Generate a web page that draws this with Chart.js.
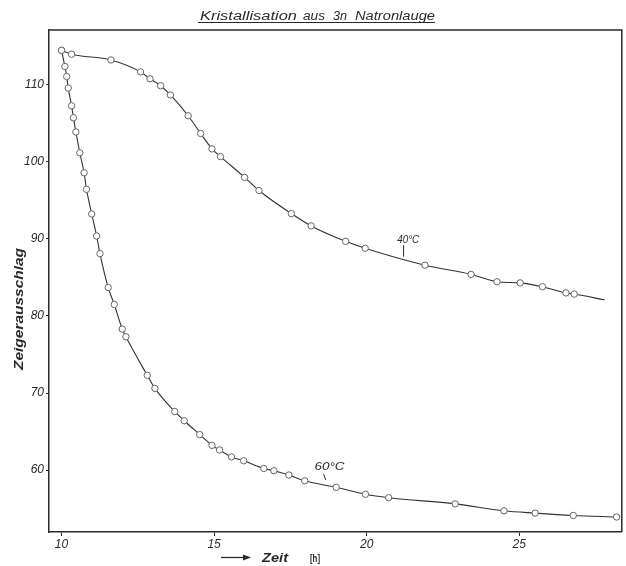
<!DOCTYPE html>
<html>
<head>
<meta charset="utf-8">
<script src="https://cdn.jsdelivr.net/npm/chart.js@4.4.1/dist/chart.umd.min.js"></script>
<style>
  body { margin: 0; background: #fff; }
  canvas { display: block; }
</style>
</head>
<body>
<canvas id="chart" width="626" height="566"></canvas>
<script>
// Werte
const zeit40 = [10.0, 10.33, 11.62, 12.59, 12.9, 13.25, 13.57, 14.15, 14.56, 14.93, 15.21, 16.0, 16.47,
  17.53, 18.18, 19.31, 19.95, 21.91, 23.42, 24.27, 25.03, 25.76, 26.53, 26.8, 27.8];
const wert40 = [114.5, 114.0, 113.25, 111.7, 110.8, 109.9, 108.7, 106.0, 103.7, 101.7, 100.7, 98.0, 96.3,
  93.3, 91.7, 89.7, 88.8, 86.6, 85.4, 84.45, 84.3, 83.8, 83.0, 82.85, 82.1];

const zeit60 = [10.0, 10.11, 10.17, 10.22, 10.33, 10.39, 10.47, 10.6, 10.74, 10.82, 10.99, 11.15, 11.26,
  11.53, 11.73, 11.99, 12.11, 12.81, 13.06, 13.71, 14.02, 14.53, 14.93, 15.18, 15.57, 15.97, 16.63,
  16.96, 17.45, 17.97, 19.0, 19.96, 20.72, 22.9, 24.5, 25.52, 26.77, 28.19];
const wert60 = [114.5, 112.4, 111.1, 109.6, 107.3, 105.75, 103.9, 101.2, 98.6, 96.45, 93.25, 90.4, 88.1,
  83.7, 81.5, 78.3, 77.3, 72.3, 70.6, 67.6, 66.4, 64.6, 63.2, 62.6, 61.7, 61.2, 60.2,
  59.9, 59.35, 58.6, 57.75, 56.85, 56.4, 55.6, 54.7, 54.4, 54.1, 53.9];

const xTicks = [10, 15, 20, 25];
const yTicks = [60, 70, 80, 90, 100, 110];
const kurvenNamen = ["40°C", "60°C"];
const titel = "Kristallisation aus 3n Natronlauge";
const yTitel = "Zeigerausschlag";
const xTitel = "Zeit";
const xEinheit = "[h]";

const FONT = '"Liberation Sans", Arial, sans-serif';
const INK = "#2a2a2a";

function toPoints(xs, ys) {
  return xs.map((x, i) => ({ x, y: ys[i] }));
}

// Text auf eine bestimmte Breite strecken
function fitText(ctx, text, x0, x1, y) {
  const w = ctx.measureText(text).width;
  ctx.save();
  ctx.translate(x0, y);
  ctx.scale((x1 - x0) / w, 1);
  ctx.textAlign = "left";
  ctx.fillText(text, 0, 0);
  ctx.restore();
}

const beschriftung = {
  id: "beschriftung",
  afterDraw(chart) {
    const { ctx, chartArea: a, scales: { x, y } } = chart;
    ctx.save();
    ctx.strokeStyle = INK;
    ctx.lineWidth = 1.5;
    ctx.beginPath();
    ctx.moveTo(a.left, a.top);
    ctx.lineTo(a.right, a.top);
    ctx.lineTo(a.right, a.bottom);
    ctx.stroke();

    ctx.fillStyle = INK;
    ctx.textBaseline = "alphabetic";

    // Titel, unterstrichen
    ctx.font = "italic 12px " + FONT;
    const worte = titel.split(" ");
    const spans = [[200, 297], [303, 325], [333, 347], [355, 435]];
    worte.forEach((w, i) => fitText(ctx, w, spans[i][0], spans[i][1], 20));
    ctx.lineWidth = 1;
    ctx.beginPath();
    ctx.moveTo(198, 22.5);
    ctx.lineTo(435, 22.5);
    ctx.stroke();

    // y-Achsentitel
    ctx.save();
    ctx.translate(23, 370);
    ctx.rotate(-Math.PI / 2);
    ctx.font = "italic bold 12px " + FONT;
    fitText(ctx, yTitel, 0, 122, 0);
    ctx.restore();

    // x-Achsentitel mit Pfeil
    ctx.lineWidth = 1.3;
    ctx.beginPath();
    ctx.moveTo(221, 557.5);
    ctx.lineTo(244, 557.5);
    ctx.stroke();
    ctx.beginPath();
    ctx.moveTo(251, 557.5);
    ctx.lineTo(243, 554.5);
    ctx.lineTo(243, 560.5);
    ctx.closePath();
    ctx.fill();
    ctx.font = "italic bold 12px " + FONT;
    fitText(ctx, xTitel, 262, 288, 562);
    ctx.font = "bold 11px " + FONT;
    fitText(ctx, xEinheit, 310, 320, 562);

    // Kurvenbeschriftung
    ctx.font = "italic 11px " + FONT;
    ctx.lineWidth = 1;
    const l40x = x.getPixelForValue(21.36), l40y = y.getPixelForValue(90.0);
    fitText(ctx, kurvenNamen[0], l40x - 11, l40x + 11, l40y + 4);
    ctx.beginPath();
    ctx.moveTo(x.getPixelForValue(21.21), y.getPixelForValue(89.2));
    ctx.lineTo(x.getPixelForValue(21.21), y.getPixelForValue(87.7));
    ctx.stroke();

    const l60x = x.getPixelForValue(18.78), l60y = y.getPixelForValue(60.5);
    fitText(ctx, kurvenNamen[1], l60x - 15, l60x + 15, l60y + 4);
    ctx.beginPath();
    ctx.moveTo(x.getPixelForValue(18.59), y.getPixelForValue(59.45));
    ctx.lineTo(x.getPixelForValue(18.66), y.getPixelForValue(58.7));
    ctx.stroke();
    ctx.restore();
  }
};

function serie(label, xs, ys, radien) {
  return {
    label,
    data: toPoints(xs, ys),
    showLine: true,
    cubicInterpolationMode: "monotone",
    borderColor: "#333",
    borderWidth: 1.1,
    pointRadius: radien,
    pointBorderWidth: 1,
    pointBorderColor: "#666",
    pointBackgroundColor: "#fff",
    pointHoverRadius: radien
  };
}

const radien40 = zeit40.map((_, i) => (i === zeit40.length - 1 ? 0 : 3.2));
const radien60 = zeit60.map(() => 3.2);

const tickFont = { family: FONT, size: 12, style: "italic" };

new Chart(document.getElementById("chart").getContext("2d"), {
  type: "scatter",
  data: {
    datasets: [
      serie(kurvenNamen[0], zeit40, wert40, radien40),
      serie(kurvenNamen[1], zeit60, wert60, radien60)
    ]
  },
  options: {
    responsive: false,
    animation: false,
    layout: { padding: { top: 30, right: 3, left: 0, bottom: 0 } },
    plugins: {
      legend: { display: false },
      tooltip: { enabled: false }
    },
    scales: {
      x: {
        type: "linear",
        min: 9.59,
        max: 28.36,
        afterBuildTicks: s => { s.ticks = xTicks.map(v => ({ value: v })); },
        afterFit: s => { s.height = 34; },
        grid: { drawOnChartArea: false, tickLength: 4, color: INK },
        border: { color: INK, width: 1.5 },
        ticks: { font: tickFont, color: INK, padding: 1, maxRotation: 0 }
      },
      y: {
        min: 51.95,
        max: 117.14,
        afterBuildTicks: s => { s.ticks = yTicks.map(v => ({ value: v })); },
        afterFit: s => { s.width = 49; },
        grid: { drawOnChartArea: false, tickLength: 3, color: INK },
        border: { color: INK, width: 1.5 },
        ticks: { font: tickFont, color: INK, padding: 2 }
      }
    }
  },
  plugins: [beschriftung]
});
</script>
</body>
</html>
